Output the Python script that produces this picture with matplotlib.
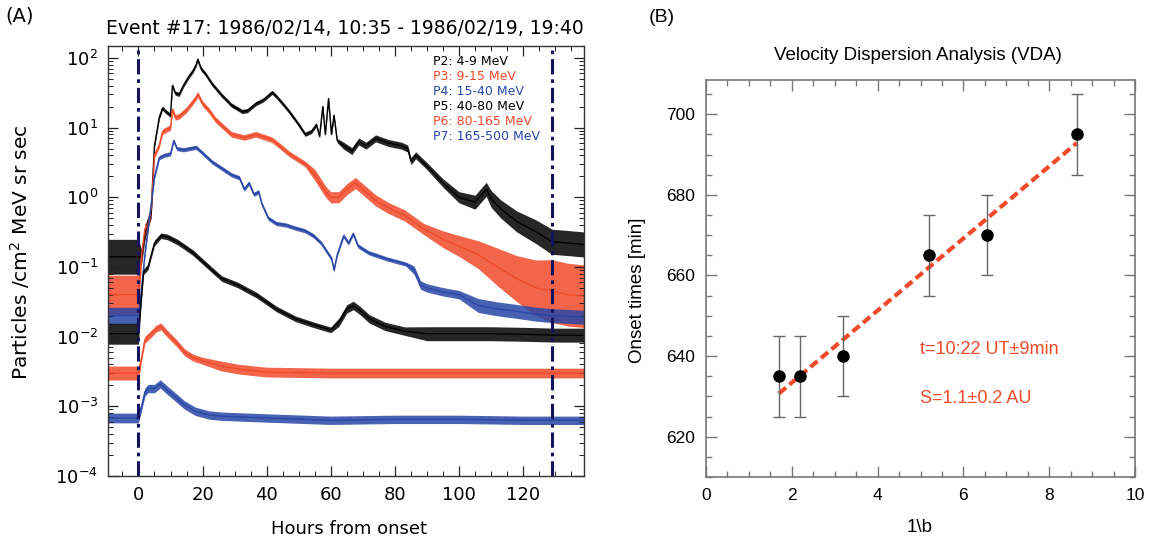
import numpy as np
import matplotlib
matplotlib.use("Agg")
import matplotlib.pyplot as plt
import matplotlib.ticker as ticker

# ---- panel A: proton fluxes, hours from onset ----
p2_hours = [-9.5, 0, 1, 2, 3, 4, 4.5, 5, 6.5, 7.5, 8.5, 10, 10.6, 11.5, 12.7, 14, 15.8, 17, 18, 18.5,
            19.5, 21, 23, 26, 29, 32.4, 34, 36.6, 39, 41.7, 43, 45, 47, 50, 52, 54, 55.5, 56.5, 57.5, 58.3,
            59.3, 60.2, 61, 62, 64, 66.6, 68.7, 71, 74, 78, 82, 84, 85, 86.5, 90, 95, 100, 105, 108.5, 110,
            113, 118, 124, 129, 134, 139]
p2_flux = [0.14, 0.14, 0.14, 0.3, 0.45, 0.6, 2, 5.5, 14, 19, 17, 15, 40, 31, 30, 40, 55, 65, 80, 95,
           70, 58, 42, 29, 21, 17, 17.5, 22, 25, 32, 28, 22, 17, 11, 8, 8.8, 11, 7.5, 20, 8,
           26, 8, 15, 6.5, 5.5, 4.6, 6.3, 5.5, 7, 6, 5.5, 5, 3.3, 4, 2.8, 1.6, 1.0, 0.85, 1.3, 0.95,
           0.68, 0.45, 0.32, 0.23, 0.22, 0.21]
p2_spread = [0.25, 0.25, 0.1, 0.1, 0.08, 0.08] + [0.03] * 38 + [0.05] * 11 + \
            [0.06, 0.08, 0.1, 0.1, 0.12, 0.13, 0.15, 0.17, 0.18, 0.18, 0.18]

p3_hours = [-9.5, 0, 1, 2, 3, 4, 5, 6.5, 7.5, 9, 10, 10.6, 11.5, 12.7, 15, 18, 18.5, 20, 22, 24,
            29, 33, 36.6, 41.6, 44, 47, 52, 55, 58.4, 60, 62.5, 65, 67.7, 70, 74, 78, 83, 89, 95, 100,
            106, 112, 118, 124, 129, 134, 139]
p3_flux = [0.04, 0.04, 0.15, 0.35, 0.4, 0.7, 4, 5.6, 8.7, 9.5, 10, 18, 14, 14.5, 18, 27, 30, 22, 17.5, 13,
           8, 7.2, 8, 6.7, 5.5, 4.2, 3, 2.1, 1.2, 1.0, 1.0, 1.3, 1.6, 1.3, 0.9, 0.7, 0.55, 0.35, 0.25, 0.2,
           0.15, 0.1, 0.068, 0.05, 0.045, 0.04, 0.038]
p3_spread = [0.28, 0.28, 0.1, 0.08, 0.08, 0.08] + [0.04] * 21 + [0.08] * 11 + \
            [0.12, 0.15, 0.2, 0.27, 0.33, 0.4, 0.45, 0.45, 0.45]

p4_hours = [-9.5, 0, 1, 2, 3, 4, 5, 6.5, 8, 10, 11, 12, 14, 16, 18, 20, 23, 26, 29, 31.5,
            33, 34.5, 36, 37.5, 38.5, 40.5, 43, 46, 49, 52, 54.6, 57, 59, 60.3, 61, 62, 64, 65.5, 67, 68.5,
            71.8, 77.6, 83.4, 86, 88, 90, 95, 100, 106, 112, 118, 124, 129, 139]
p4_flux = [0.02, 0.02, 0.05, 0.15, 0.35, 0.8, 2, 3.7, 4.0, 4.2, 6.5, 5, 4.8, 5, 5.2, 4.3, 3.2, 2.6, 2.1, 1.9,
           1.3, 1.6, 1.1, 1.2, 0.8, 0.5, 0.42, 0.4, 0.36, 0.33, 0.28, 0.22, 0.16, 0.13, 0.09, 0.15, 0.28, 0.22,
           0.3, 0.2, 0.16, 0.13, 0.11, 0.09, 0.055, 0.05, 0.044, 0.04, 0.028, 0.025, 0.023, 0.021, 0.02, 0.019]
p4_spread = [0.12, 0.12] + [0.04] * 5 + [0.03] * 36 + [0.06] * 5 + [0.1] * 6

p5_hours = [-9.5, 0, 1, 1.6, 3, 4, 5, 7, 9, 12, 14, 17, 20, 23, 26, 31, 37, 43, 49, 55,
            60, 62.5, 65, 67, 69, 72, 77, 83, 90, 100, 110, 120, 130, 139]
p5_flux = [0.011, 0.011, 0.04, 0.085, 0.1, 0.15, 0.22, 0.28, 0.27, 0.23, 0.2, 0.16, 0.12, 0.09, 0.068,
           0.055, 0.039, 0.025, 0.018, 0.0146, 0.0125, 0.016, 0.025, 0.028, 0.024, 0.018, 0.014, 0.012,
           0.011, 0.011, 0.011, 0.0108, 0.0105, 0.0105]
p5_spread = [0.15, 0.15] + [0.04] * 19 + [0.06] * 7 + [0.1] * 6

p6_hours = [-9.5, 0, 1, 2, 4, 5.5, 7, 9, 12, 14.3, 17, 20, 25.7, 31.5, 40, 60, 80, 100, 120, 139]
p6_flux = [0.003, 0.003, 0.005, 0.009, 0.011, 0.013, 0.014, 0.011, 0.008, 0.006, 0.005, 0.0045,
           0.0038, 0.0034, 0.0031, 0.003, 0.003, 0.003, 0.003, 0.003]
p6_spread = [0.1, 0.1] + [0.05] * 10 + [0.07] * 8

p7_hours = [-9.5, 0, 1, 2, 3, 5, 6.8, 9, 10.8, 14.3, 17.7, 22, 26, 40, 60, 80, 100, 120, 139]
p7_flux = [0.00068, 0.00068, 0.001, 0.0016, 0.0018, 0.0018, 0.0021, 0.0017, 0.00145, 0.00105, 0.00085,
           0.00075, 0.00072, 0.00068, 0.00063, 0.00065, 0.00065, 0.00063, 0.00063]
p7_spread = [0.07, 0.07] + [0.06] * 17

channel_labels = ["P2: 4-9 MeV", "P3: 9-15 MeV", "P4: 15-40 MeV",
                  "P5: 40-80 MeV", "P6: 80-165 MeV", "P7: 165-500 MeV"]
event_bounds = [0, 129.08]  # onset and end of event, hours
flux_ticks = [1e-4, 1e-3, 1e-2, 1e-1, 1e0, 1e1, 1e2]

# ---- panel B: velocity dispersion analysis ----
inv_beta = [1.7, 2.2, 3.2, 5.2, 6.55, 8.65]
onset_min = [635, 635, 640, 665, 670, 695]
onset_err = [10, 10, 10, 10, 10, 10]
fit_intercept = 615.5
fit_slope = 8.95

BLACK = "#000000"
RED = "#f04a2a"
BLUE = "#2846a6"
NAVY = "#14145e"

W, H = 1150, 541
fig = plt.figure(figsize=(W / 100, H / 100), dpi=100)


def box(l, t, r, b):
    return [l / W, 1 - b / H, (r - l) / W, (b - t) / H]


# ---------------- panel A ----------------
axA = fig.add_axes(box(108, 46, 584, 476))
series = [
    (p2_hours, p2_flux, p2_spread, BLACK),
    (p3_hours, p3_flux, p3_spread, RED),
    (p4_hours, p4_flux, p4_spread, BLUE),
    (p5_hours, p5_flux, p5_spread, BLACK),
    (p6_hours, p6_flux, p6_spread, RED),
    (p7_hours, p7_flux, p7_spread, BLUE),
]
for hrs, flux, spr, col in series:
    hrs = np.asarray(hrs)
    flux = np.asarray(flux)
    spr = np.asarray(spr)
    axA.fill_between(hrs, flux / 10 ** spr, flux * 10 ** spr, color=col, alpha=0.85, lw=0)
    axA.plot(hrs, flux, color=col, lw=1.0)

for xb in event_bounds:
    axA.axvline(xb, color=NAVY, lw=2.2, ls=(0, (5, 1.6, 1.2, 1.6)))

axA.set_yscale("log")
axA.set_xlim(-9.5, 139)
axA.set_ylim(1e-4, 148)
axA.xaxis.set_major_locator(ticker.MultipleLocator(20))
axA.xaxis.set_minor_locator(ticker.MultipleLocator(5))
axA.yaxis.set_major_locator(ticker.FixedLocator(flux_ticks))
axA.yaxis.set_major_formatter(ticker.LogFormatterSciNotation())
axA.yaxis.set_minor_locator(ticker.LogLocator(base=10, subs=np.arange(2, 10), numticks=20))
axA.tick_params(which="both", direction="in", top=True, right=True, colors="#222222",
                labelsize=13, labelcolor="black")
axA.tick_params(which="major", length=7, width=0.9, pad=7)
axA.tick_params(which="minor", length=3.5, width=0.7)
for sp in axA.spines.values():
    sp.set_color("#333333")
    sp.set_linewidth(1.0)

for i, (lab, col) in enumerate(zip(channel_labels, [BLACK, RED, BLUE, BLACK, RED, BLUE])):
    axA.text(0.683, 0.963 - i * 0.0349, lab, color=col, fontsize=9,
             transform=axA.transAxes, va="center", ha="left")

fig.text(345 / W, 1 - 29 / H, "Event #17: 1986/02/14, 10:35 - 1986/02/19, 19:40",
         ha="center", va="center", fontsize=13.5)
fig.text(20 / W, 1 - 252 / H, "Particles /cm$^2$ MeV sr sec", rotation=90,
         ha="center", va="center", fontsize=14.5)
fig.text(349 / W, 1 - 529 / H, "Hours from onset", ha="center", va="center", fontsize=13)
fig.text(20 / W, 1 - 16 / H, "(A)", ha="center", va="center", fontsize=14)

# ---------------- panel B ----------------
SANS = "Liberation Sans"
axB = fig.add_axes(box(706, 80, 1135, 477))
fit_x = np.array([inv_beta[0], inv_beta[-1]])
axB.plot(fit_x, fit_intercept + fit_slope * fit_x, color=RED, lw=3, ls=(0, (2.2, 1.1)), zorder=2)
axB.errorbar(inv_beta, onset_min, yerr=onset_err, fmt="o", color="black", ms=8,
             ecolor="#666666", elinewidth=1.0, capsize=4.5, capthick=1.0, zorder=3)
axB.set_xlim(0, 10)
axB.set_ylim(610, 708.5)
axB.xaxis.set_major_locator(ticker.MultipleLocator(2))
axB.xaxis.set_minor_locator(ticker.MultipleLocator(0.5))
axB.yaxis.set_major_locator(ticker.MultipleLocator(20))
axB.yaxis.set_minor_locator(ticker.MultipleLocator(5))
axB.tick_params(which="both", direction="in", top=True, right=True, colors="#777777",
                labelsize=12.5, labelcolor="black")
axB.tick_params(which="major", length=8, width=1.0, pad=8)
axB.tick_params(which="minor", length=4, width=1.0)
for lab in axB.get_xticklabels() + axB.get_yticklabels():
    lab.set_family(SANS)
for sp in axB.spines.values():
    sp.set_color("#777777")
    sp.set_linewidth(1.2)

axB.text(5.0, 641.6, "t=10:22 UT\u00b19min", color=RED, fontsize=13, family=SANS, va="center")
axB.text(5.0, 629.5, "S=1.1\u00b10.2 AU", color=RED, fontsize=13, family=SANS, va="center")

fig.text(918 / W, 1 - 55 / H, "Velocity Dispersion Analysis (VDA)", ha="center", va="center",
         fontsize=13.5, family=SANS)
fig.text(637 / W, 1 - 290 / H, "Onset times [min]", rotation=90, ha="center", va="center",
         fontsize=13.5, family=SANS)
fig.text(920 / W, 1 - 527 / H, "1\\b", ha="center", va="center", fontsize=13.5, family=SANS)
fig.text(662 / W, 1 - 18 / H, "(B)", ha="center", va="center", fontsize=14, family=SANS)

fig.savefig("out.png", dpi=100)
